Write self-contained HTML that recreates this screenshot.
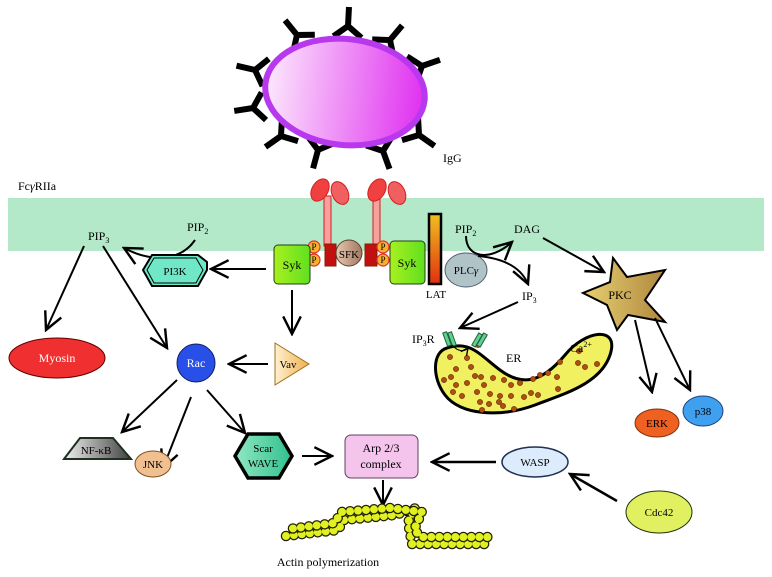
<!DOCTYPE html>
<html><head><meta charset="utf-8"><style>
html,body{margin:0;padding:0;background:#fff}
svg{display:block;font-family:"Liberation Serif",serif}
</style></head><body>
<svg width="772" height="577" viewBox="0 0 772 577" xmlns="http://www.w3.org/2000/svg">
<defs>
<linearGradient id="cell" x1="0" x2="1"><stop offset="0" stop-color="#fce8fc"/><stop offset="1" stop-color="#e030f0"/></linearGradient>
<linearGradient id="syk" x1="0" x2="1"><stop offset="0" stop-color="#a8f020"/><stop offset="1" stop-color="#60e020"/></linearGradient>
<linearGradient id="lat" x1="0" x2="0" y1="0" y2="1"><stop offset="0" stop-color="#f0c020"/><stop offset="1" stop-color="#e03010"/></linearGradient>
<linearGradient id="pkc" x1="0" x2="1"><stop offset="0" stop-color="#e8d070"/><stop offset="1" stop-color="#b08840"/></linearGradient>
<linearGradient id="nfkb" x1="0" x2="1"><stop offset="0" stop-color="#f0f0f0"/><stop offset="1" stop-color="#404040"/></linearGradient>
<linearGradient id="scar" x1="0" x2="1"><stop offset="0" stop-color="#90e8c0"/><stop offset="1" stop-color="#30c090"/></linearGradient>
<linearGradient id="vav" x1="0" x2="1"><stop offset="0" stop-color="#fff0d0"/><stop offset="1" stop-color="#f0b050"/></linearGradient>
<linearGradient id="sfk" x1="0" x2="1"><stop offset="0" stop-color="#e8c8b0"/><stop offset="1" stop-color="#a07860"/></linearGradient>
<marker id="ah" viewBox="0 0 20 20" refX="18" refY="10" markerWidth="9" markerHeight="9" markerUnits="userSpaceOnUse" orient="auto"><path d="M2,2 L18,10 L2,18" fill="none" stroke="#000" stroke-width="3"/></marker>
<marker id="ahb" viewBox="0 0 20 20" refX="18" refY="10" markerWidth="22" markerHeight="22" markerUnits="userSpaceOnUse" orient="auto"><path d="M2,2 L18,10 L2,18" fill="none" stroke="#000" stroke-width="2.2"/></marker>
<g id="ab"><path d="M0,0 L0,-19 M-14,11 L0,0 L14,11" fill="none" stroke="#000" stroke-width="6" stroke-linejoin="miter"/></g>
</defs>

<rect x="8" y="198" width="756" height="53" fill="#b3e8c8"/>

<use href="#ab" transform="translate(297,35) rotate(-39)"/>
<use href="#ab" transform="translate(348,26) rotate(3)"/>
<use href="#ab" transform="translate(390,40) rotate(40)"/>
<use href="#ab" transform="translate(422,66) rotate(71)"/>
<use href="#ab" transform="translate(255,70) rotate(-77)"/>
<use href="#ab" transform="translate(253,108) rotate(-99)"/>
<use href="#ab" transform="translate(281,136) rotate(235)"/>
<use href="#ab" transform="translate(318,150) rotate(195)"/>
<use href="#ab" transform="translate(383,151) rotate(160)"/>
<use href="#ab" transform="translate(419,135) rotate(125)"/>
<ellipse cx="345" cy="92" rx="80" ry="53" fill="url(#cell)" stroke="#b838ee" stroke-width="6" transform="rotate(6 345 92)"/>
<text x="443" y="162" font-size="12">IgG</text>
<text x="18" y="190" font-size="12">Fc<tspan font-style="italic">γ</tspan>RIIa</text>

<g stroke="#d02020" stroke-width="1">
<rect x="324" y="196" width="7" height="50" fill="#f8a0a0"/>
<rect x="373" y="196" width="7" height="50" fill="#f8a0a0"/>
<ellipse cx="320" cy="190" rx="8" ry="12" fill="#f04040" transform="rotate(30 320 190)"/>
<ellipse cx="340" cy="193" rx="8" ry="12" fill="#f06060" transform="rotate(-25 340 193)"/>
<ellipse cx="377" cy="190" rx="8" ry="12" fill="#f04040" transform="rotate(30 377 190)"/>
<ellipse cx="397" cy="193" rx="8" ry="12" fill="#f06060" transform="rotate(-25 397 193)"/>
</g>
<rect x="325" y="244" width="11" height="22" fill="#c01010" stroke="#802000"/>
<rect x="365" y="244" width="12" height="22" fill="#c01010" stroke="#802000"/>
<circle cx="349" cy="253" r="13" fill="url(#sfk)" stroke="#604030"/>
<text x="349" y="258" font-size="11" text-anchor="middle">SFK</text>
<g fill="#f8b030" stroke="#e03030" stroke-width="1.2">
<circle cx="314" cy="247" r="6"/><circle cx="314" cy="260" r="6"/>
<circle cx="383" cy="247" r="6"/><circle cx="383" cy="260" r="6"/>
</g>
<g font-size="9" text-anchor="middle"><text x="314" y="250">P</text><text x="314" y="263">P</text><text x="383" y="250">P</text><text x="383" y="263">P</text></g>
<rect x="274" y="245" width="36" height="39" rx="4" fill="url(#syk)" stroke="#204010"/>
<text x="292" y="269" font-size="12" text-anchor="middle">Syk</text>
<rect x="390" y="241" width="35" height="43" rx="4" fill="url(#syk)" stroke="#204010"/>
<text x="407" y="267" font-size="12" text-anchor="middle">Syk</text>
<rect x="429" y="214" width="12" height="70" fill="url(#lat)" stroke="#000" stroke-width="2.5"/>
<text x="436" y="298" font-size="11" text-anchor="middle">LAT</text>
<ellipse cx="466" cy="270" rx="21" ry="17" fill="#b0c4c8" stroke="#506070"/>
<text x="466" y="274" font-size="11" text-anchor="middle">PLC<tspan font-style="italic">γ</tspan></text>

<text x="455" y="233" font-size="12">PIP<tspan font-size="8" dy="3">2</tspan></text>
<text x="514" y="233" font-size="12">DAG</text>
<text x="522" y="300" font-size="12">IP<tspan font-size="8" dy="3">3</tspan></text>
<path d="M466,236 C466,258 490,262 512,242" fill="none" stroke="#000" stroke-width="2" marker-end="url(#ahb)"/>
<path d="M478,256 C500,258 520,265 528,284" fill="none" stroke="#000" stroke-width="2" marker-end="url(#ahb)"/>
<path d="M543,238 L604,272" stroke="#000" stroke-width="2" marker-end="url(#ahb)"/>

<path d="M613,258 L627,277 L665,270 L645,300 L665,322 L628,315 L617,330 L607,305 L583,293 L610,282 Z" fill="url(#pkc)" stroke="#000" stroke-width="2"/>
<text x="620" y="299" font-size="12" text-anchor="middle">PKC</text>
<path d="M635,320 L652,392" stroke="#000" stroke-width="2" marker-end="url(#ahb)"/>
<path d="M655,318 L690,390" stroke="#000" stroke-width="2" marker-end="url(#ahb)"/>
<ellipse cx="657" cy="423" rx="22" ry="14" fill="#f06020" stroke="#803010"/>
<text x="657" y="427" font-size="11" text-anchor="middle">ERK</text>
<ellipse cx="703" cy="411" rx="20" ry="15" fill="#40a0f0" stroke="#204080"/>
<text x="703" y="415" font-size="11" text-anchor="middle">p38</text>

<path d="M518,302 L460,328" stroke="#000" stroke-width="2" marker-end="url(#ahb)"/>
<text x="412" y="343" font-size="12">IP<tspan font-size="8" dy="3">3</tspan><tspan dy="-3">R</tspan></text>
<path d="M447,348 C470,340 480,355 500,370 C520,385 540,385 565,355 C585,330 620,325 610,355 C600,385 560,395 535,405 C500,418 460,415 445,395 C432,378 432,352 447,348 Z" fill="#f0f060" stroke="#000" stroke-width="3"/>
<g fill="#b05010" stroke="#602000" stroke-width="0.6">
<circle cx="450" cy="357" r="2.6"/><circle cx="467" cy="358" r="2.6"/><circle cx="456" cy="369" r="2.6"/><circle cx="471" cy="367" r="2.6"/><circle cx="451" cy="377" r="2.6"/><circle cx="444" cy="380" r="2.6"/><circle cx="475" cy="376" r="2.6"/><circle cx="481" cy="377" r="2.6"/><circle cx="493" cy="378" r="2.6"/><circle cx="504" cy="380" r="2.6"/><circle cx="511" cy="385" r="2.6"/><circle cx="520" cy="383" r="2.6"/><circle cx="533" cy="379" r="2.6"/><circle cx="540" cy="375" r="2.6"/><circle cx="548" cy="373" r="2.6"/><circle cx="557" cy="377" r="2.6"/><circle cx="560" cy="362" r="2.6"/><circle cx="558" cy="389" r="2.6"/><circle cx="578" cy="363" r="2.6"/><circle cx="579" cy="351" r="2.6"/><circle cx="585" cy="367" r="2.6"/><circle cx="597" cy="364" r="2.6"/><circle cx="456" cy="385" r="2.6"/><circle cx="467" cy="383" r="2.6"/><circle cx="453" cy="392" r="2.6"/><circle cx="462" cy="396" r="2.6"/><circle cx="477" cy="392" r="2.6"/><circle cx="484" cy="385" r="2.6"/><circle cx="490" cy="394" r="2.6"/><circle cx="500" cy="396" r="2.6"/><circle cx="480" cy="402" r="2.6"/><circle cx="489" cy="404" r="2.6"/><circle cx="499" cy="402" r="2.6"/><circle cx="511" cy="396" r="2.6"/><circle cx="524" cy="397" r="2.6"/><circle cx="531" cy="393" r="2.6"/><circle cx="538" cy="395" r="2.6"/><circle cx="503" cy="406" r="2.6"/><circle cx="514" cy="409" r="2.6"/><circle cx="482" cy="410" r="2.6"/><circle cx="478" cy="345" r="2.6"/><circle cx="480" cy="339" r="2.6"/><circle cx="484" cy="336" r="2.6"/>
</g>
<g fill="#60d090" stroke="#206040" stroke-width="1">
<rect x="445" y="332" width="4" height="14" transform="rotate(-20 447 339)"/><rect x="450" y="332" width="4" height="14" transform="rotate(-20 452 339)"/>
<rect x="475" y="333" width="4" height="14" transform="rotate(30 477 340)"/><rect x="480" y="333" width="4" height="14" transform="rotate(30 482 340)"/>
</g>
<path d="M452,345 C458,352 465,352 468,348" fill="none" stroke="#000" stroke-width="1" marker-end="url(#ah)"/>
<text x="506" y="362" font-size="12">ER</text>
<text x="570" y="352" font-size="12">Ca<tspan font-size="8" dy="-5">2+</tspan></text>

<text x="88" y="240" font-size="12">PIP<tspan font-size="8" dy="3">3</tspan></text>
<text x="187" y="231" font-size="12">PIP<tspan font-size="8" dy="3">2</tspan></text>
<path d="M195,240 C180,262 150,262 124,248" fill="none" stroke="#000" stroke-width="2" marker-end="url(#ahb)"/>
<path d="M207,262 L198,255 L152,255 L143,270 L152,286 L198,286 L207,270 Z" fill="#70e8c8" stroke="#000" stroke-width="2"/>
<path d="M196,258 L154,258 L147,270 L154,283 L196,283 L203,270 Z" fill="none" stroke="#000" stroke-width="1"/>
<text x="175" y="275" font-size="11" text-anchor="middle">PI3K</text>
<path d="M266,269 L211,269" stroke="#000" stroke-width="2" marker-end="url(#ahb)"/>
<path d="M292,290 L292,334" stroke="#000" stroke-width="2" marker-end="url(#ahb)"/>
<path d="M84,246 L46,330" stroke="#000" stroke-width="2" marker-end="url(#ahb)"/>
<path d="M103,246 L167,348" stroke="#000" stroke-width="2" marker-end="url(#ahb)"/>
<ellipse cx="57" cy="358" rx="48" ry="20" fill="#f03030" stroke="#600000"/>
<text x="57" y="362" font-size="12" fill="#fff" text-anchor="middle">Myosin</text>
<circle cx="196" cy="363" r="19" fill="#2850e8" stroke="#102060"/>
<text x="196" y="367" font-size="12" fill="#fff" text-anchor="middle">Rac</text>
<path d="M275,343 L275,385 L309,364 Z" fill="url(#vav)" stroke="#a07020"/>
<text x="288" y="368" font-size="11" text-anchor="middle">Vav</text>
<path d="M268,364 L229,364" stroke="#000" stroke-width="2" marker-end="url(#ahb)"/>
<path d="M177,380 L122,432" stroke="#000" stroke-width="2" marker-end="url(#ahb)"/>
<path d="M191,397 L163,468" stroke="#000" stroke-width="2" marker-end="url(#ahb)"/>
<path d="M207,390 L245,433" stroke="#000" stroke-width="2" marker-end="url(#ahb)"/>
<path d="M64,459 L80,438 L113,438 L131,459 Z" fill="url(#nfkb)" stroke="#203020" stroke-width="2"/>
<text x="96" y="454" font-size="11" text-anchor="middle">NF-κB</text>
<ellipse cx="153" cy="464" rx="18" ry="13" fill="#f0c090" stroke="#805020"/>
<text x="153" y="468" font-size="11" text-anchor="middle">JNK</text>
<path d="M248,434 L279,434 L292,456 L279,478 L248,478 L235,456 Z" fill="url(#scar)" stroke="#000" stroke-width="3.5"/>
<text x="263" y="452" font-size="11" text-anchor="middle">Scar</text>
<text x="263" y="467" font-size="11" text-anchor="middle">WAVE</text>
<path d="M302,456 L332,456" stroke="#000" stroke-width="2" marker-end="url(#ahb)"/>
<rect x="345" y="435" width="73" height="43" rx="6" fill="#f4c4ec" stroke="#604060"/>
<text x="381" y="452" font-size="12" text-anchor="middle">Arp 2/3</text>
<text x="381" y="468" font-size="12" text-anchor="middle">complex</text>
<path d="M496,462 L432,462" stroke="#000" stroke-width="2.5" marker-end="url(#ahb)"/>
<ellipse cx="535" cy="462" rx="33" ry="15" fill="#dcecfc" stroke="#203050" stroke-width="1.5"/>
<text x="535" y="466" font-size="11" text-anchor="middle">WASP</text>
<path d="M617,501 L570,474" stroke="#000" stroke-width="2.5" marker-end="url(#ahb)"/>
<ellipse cx="659" cy="512" rx="33" ry="21" fill="#e0f060" stroke="#203010"/>
<text x="659" y="516" font-size="11" text-anchor="middle">Cdc42</text>
<path d="M383,480 L383,505" stroke="#000" stroke-width="2" marker-end="url(#ahb)"/>

<g fill="none" stroke-linecap="round" stroke-dasharray="0 8">
<path d="M286,536 L338,530 L344,520 L395,515 L416,508 L408,522 L412,544 L490,544" stroke="#202000" stroke-width="10.5"/>
<path d="M286,536 L338,530 L344,520 L395,515 L416,508 L408,522 L412,544 L490,544" stroke="#e0f020" stroke-width="8"/>
<path d="M289,529 L335,523 L341,512 L390,508 L422,512 L414,530 L422,537 L492,537" stroke="#202000" stroke-width="10.5" stroke-dashoffset="4"/>
<path d="M289,529 L335,523 L341,512 L390,508 L422,512 L414,530 L422,537 L492,537" stroke="#e0f020" stroke-width="8" stroke-dashoffset="4"/>
</g>
<text x="328" y="566" font-size="12" text-anchor="middle">Actin polymerization</text>
</svg>
</body></html>
